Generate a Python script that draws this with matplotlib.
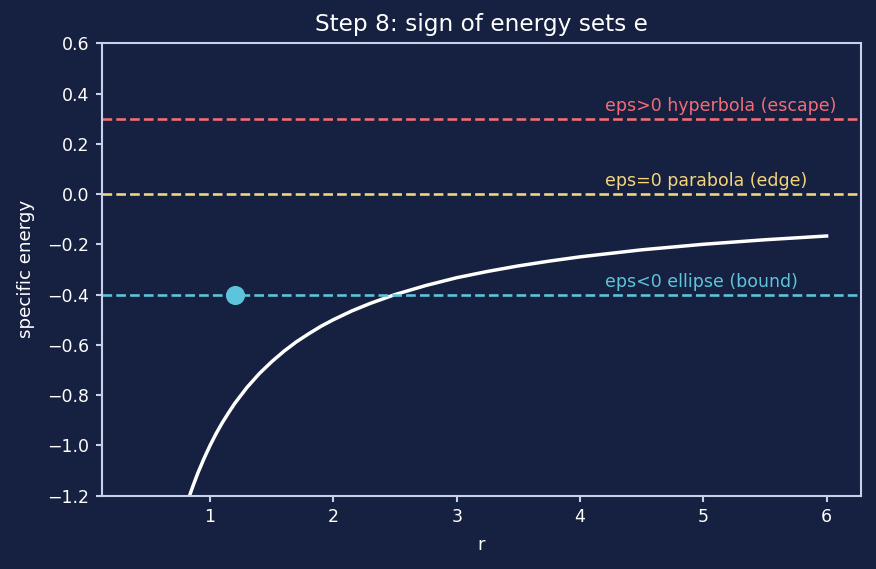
import numpy as np
import matplotlib.pyplot as plt

plt.rcParams["font.family"] = ["DejaVu Sans"]

# energy curve (r, specific energy)
r_vals = [0.40, 0.50, 0.60, 0.70, 0.75, 0.80, 0.83, 0.86, 0.90, 0.95, 1.00,
          1.05, 1.10, 1.15, 1.20, 1.30, 1.40, 1.50, 1.60, 1.70, 1.80, 1.90,
          2.00, 2.15, 2.30, 2.50, 2.75, 3.00, 3.25, 3.50, 3.75, 4.00, 4.50,
          5.00, 5.50, 6.00]
energy_vals = [-2.500, -2.000, -1.667, -1.429, -1.333, -1.250, -1.205, -1.163,
               -1.111, -1.053, -1.000, -0.952, -0.909, -0.870, -0.833, -0.769,
               -0.714, -0.667, -0.625, -0.588, -0.556, -0.526, -0.500, -0.465,
               -0.435, -0.400, -0.364, -0.333, -0.308, -0.286, -0.267, -0.250,
               -0.222, -0.200, -0.182, -0.167]

levels = [0.3, 0.0, -0.4]
level_labels = ["eps>0 hyperbola (escape)", "eps=0 parabola (edge)", "eps<0 ellipse (bound)"]
level_colors = ["#f26d78", "#f5d67b", "#5ec4dc"]

marker_r = [1.2]
marker_e = [-0.4]

bg = "#162040"
fg = "#c9d1ea"

dpi = 125
fig = plt.figure(figsize=(876 / dpi, 569 / dpi), dpi=dpi, facecolor=bg)
ax = fig.add_axes([0.116, 0.129, 0.867, 0.795], facecolor=bg)

ax.plot(r_vals, energy_vals, color="white", lw=2.0)
for lev, lab, col in zip(levels, level_labels, level_colors):
    ax.axhline(lev, color=col, ls="--", lw=1.5)
    ax.text(4.2, lev + 0.03, lab, color=col, fontsize=10)
ax.plot(marker_r, marker_e, "o", color="#5ec4dc", markersize=10)

ax.set_xlim(0.12, 6.28)
ax.set_ylim(-1.2, 0.6)
ax.set_xticks([1, 2, 3, 4, 5, 6])
ax.set_yticks(np.arange(-1.2, 0.61, 0.2))
ax.set_title("Step 8: sign of energy sets e", color="white", fontsize=13.4, pad=7)
ax.set_xlabel("r", color="white", fontsize=10.5, labelpad=6)
ax.set_ylabel("specific energy", color="white", fontsize=10.5, labelpad=7)
ax.tick_params(colors=fg, labelcolor="white", labelsize=10, width=1.2)
for s in ax.spines.values():
    s.set_color(fg)
    s.set_linewidth(1.2)

fig.savefig("out.png", dpi=dpi, facecolor=bg)
